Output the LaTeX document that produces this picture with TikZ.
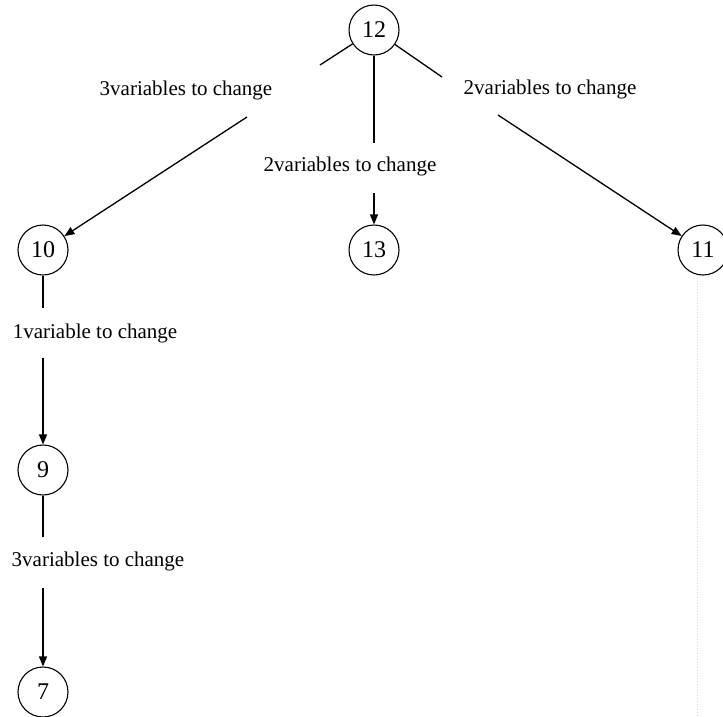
\documentclass[tikz,border=0pt]{standalone}
\usepackage{fontspec}
\setmainfont{Liberation Serif}
\usetikzlibrary{arrows.meta}
\begin{document}
\begin{tikzpicture}[x=1pt,y=-1pt,
  state/.style={circle,draw,line width=1.1pt,minimum size=50pt,inner sep=0pt,font=\fontsize{24}{28}\selectfont},
  elabel/.style={inner sep=0pt,font=\fontsize{21}{25}\selectfont},
  edge/.style={line width=1.3pt},
  arr/.style={edge,-{Triangle[length=10pt,width=8pt]}},
  faint/.style={gray!30,dotted,line width=0.8pt}]
\path[use as bounding box] (0,0) rectangle (723,716);
% nodes
\node[state] (n12) at (374,30) {12};
\node[state] (n10) at (43,250) {10};
\node[state] (n13) at (374,250) {13};
\node[state] (n11) at (703,250) {11};
\node[state] (n9) at (43,470) {9};
\node[state] (n7) at (43,692) {7};
% labels
\node[elabel] (l1210) at (186,90) {3variables to change};
\node[elabel] (l1213) at (350,166) {2variables to change};
\node[elabel] (l1211) at (550,89) {2variables to change};
\node[elabel] (l109) at (95,333) {1variable to change};
\node[elabel] (l97) at (98,561) {3variables to change};
% gap coordinates
\coordinate (a1) at (320,65);
\coordinate (b1) at (247,117);
\coordinate (a2) at (374,143);
\coordinate (b2) at (374,193);
\coordinate (a3) at (442,77);
\coordinate (b3) at (498,115);
\coordinate (a4) at (43,308);
\coordinate (b4) at (43,358);
\coordinate (a5) at (43,537);
\coordinate (b5) at (43,588);
% edges
\draw[edge] (n12) -- (a1);
\draw[arr] (b1) -- (n10);
\draw[edge] (n12) -- (a2);
\draw[arr] (b2) -- (n13);
\draw[edge] (n12) -- (a3);
\draw[arr] (b3) -- (n11);
\draw[edge] (n10) -- (a4);
\draw[arr] (b4) -- (n9);
\draw[edge] (n9) -- (a5);
\draw[arr] (b5) -- (n7);
% faint dotted line
\coordinate (dtop) at (697,278);
\coordinate (dbot) at (697,716);
\draw[faint] (dtop) -- (dbot);
\end{tikzpicture}
\end{document}
